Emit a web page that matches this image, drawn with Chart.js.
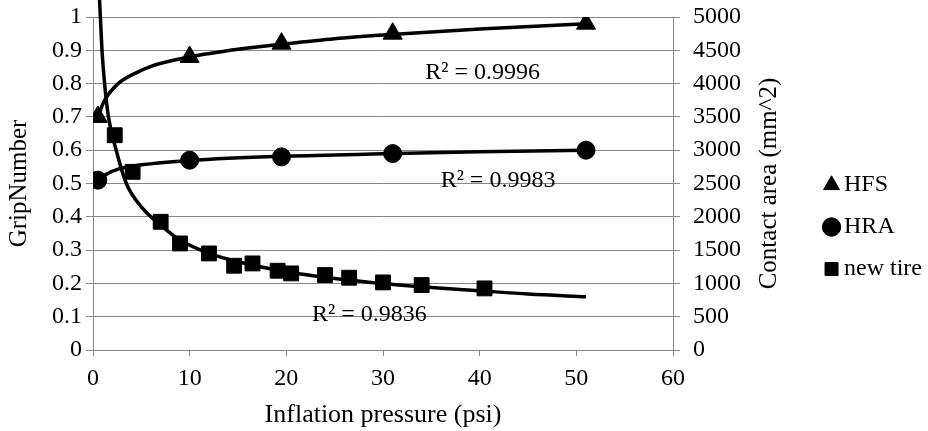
<!DOCTYPE html>
<html>
<head>
<meta charset="utf-8">
<script src="https://cdn.jsdelivr.net/npm/chart.js@4.4.1/dist/chart.umd.min.js"></script>
<style>
  html, body { margin: 0; padding: 0; background: #fff; }
  #wrap { width: 928px; height: 431px; }
</style>
</head>
<body>
<div id="wrap"><canvas id="grip"></canvas></div>
<script>
const pressureHFS = [0.5, 10, 19.5, 31, 51];
const gripHFS = [0.70, 0.88, 0.92, 0.95, 0.98];
const pressureHRA = [0.5, 10, 19.5, 31, 51];
const gripHRA = [0.51, 0.57, 0.58, 0.59, 0.60];
const pressureTire = [2.25, 4.1, 7.0, 9.0, 12.0, 14.6, 16.5, 19.1, 20.5, 24.0, 26.5, 30.0, 34.0, 40.5];
const areaTire = [3225, 2675, 1925, 1600, 1450, 1265, 1300, 1190, 1150, 1125, 1085, 1015, 975, 925];

// trend lines
const fitHFSx = [0.5, 1.2, 2.6, 4.3, 6, 10, 15, 20, 25, 30, 40, 51];
const fitHFSy = [0.70, 0.75, 0.80, 0.83, 0.852, 0.88, 0.903, 0.92, 0.935, 0.946, 0.964, 0.98];
const fitHRAx = [0.5, 1.2, 2.6, 5, 10, 20, 30, 40, 51];
const fitHRAy = [0.508, 0.525, 0.543, 0.556, 0.569, 0.582, 0.589, 0.595, 0.60];
const fitTireX = [0.62, 0.68, 0.93, 1.2, 1.6, 2.4, 3.45, 5, 7, 9, 12, 15, 20, 25, 30, 35, 40, 45, 51];
const fitTireY = [5500, 5250, 4500, 4000, 3500, 3000, 2500, 2150, 1875, 1650, 1450, 1325, 1175, 1075, 1000, 940, 890, 840, 800];

const r2Values = ["0.9996", "0.9983", "0.9836"];

const serif = "'Liberation Serif', 'Times New Roman', serif";
const gray = "#878787";
const padR = -4, padB = -6;
Chart.defaults.font.family = serif;
Chart.defaults.font.size = 24;
Chart.defaults.color = "#000";

function pts(xs, ys) {
  return xs.map((x, i) => ({ x: x, y: ys[i] }));
}

// R² labels + right axis title (Excel writes it bottom-to-top)
const extras = {
  id: "extras",
  afterDraw(chart) {
    const ctx = chart.ctx;
    const a = chart.chartArea;
    const xs = chart.scales.x, ys = chart.scales.y;
    ctx.save();
    ctx.font = "24px " + serif;
    ctx.fillStyle = "#000";
    ctx.textAlign = "center";
    ctx.textBaseline = "middle";
    const spots = [[40.3, 0.834], [41.9, 0.507], [28.6, 0.105]];
    r2Values.forEach((v, i) => {
      ctx.fillText("R² = " + v, xs.getPixelForValue(spots[i][0]), ys.getPixelForValue(spots[i][1]));
    });
    ctx.font = "25px " + serif;
    ctx.translate(769, (a.top + a.bottom) / 2);
    ctx.rotate(-Math.PI / 2);
    ctx.fillText("Contact area (mm^2)", 0, 0);
    ctx.restore();
  }
};

const markerStyle = {
  showLine: false,
  backgroundColor: "#000",
  borderColor: "#000",
  pointBackgroundColor: "#000",
  pointBorderColor: "#000",
  pointBorderWidth: 1
};
const fitStyle = {
  showLine: true,
  pointRadius: 0,
  borderColor: "#000",
  borderWidth: 3.5,
  fill: false,
  cubicInterpolationMode: "monotone"
};

function noPad(s) {
  s.paddingTop = 0;
  s.paddingBottom = 0;
}

new Chart(document.getElementById("grip"), {
  type: "scatter",
  data: {
    datasets: [
      Object.assign({ label: "HFS", data: pts(pressureHFS, gripHFS), yAxisID: "y", pointStyle: "triangle", pointRadius: 11 }, markerStyle),
      Object.assign({ label: "HRA", data: pts(pressureHRA, gripHRA), yAxisID: "y", pointStyle: "circle", pointRadius: 9 }, markerStyle),
      Object.assign({ label: "new tire", data: pts(pressureTire, areaTire), yAxisID: "y2", pointStyle: "rect", pointRadius: 10.5 }, markerStyle),
      Object.assign({ label: "fit HFS", data: pts(fitHFSx, fitHFSy), yAxisID: "y" }, fitStyle),
      Object.assign({ label: "fit HRA", data: pts(fitHRAx, fitHRAy), yAxisID: "y" }, fitStyle),
      Object.assign({ label: "fit tire", data: pts(fitTireX, fitTireY), yAxisID: "y2", clip: false }, fitStyle)
    ]
  },
  options: {
    responsive: true,
    maintainAspectRatio: false,
    animation: false,
    events: [],
    layout: { padding: { top: 17, left: 0, right: padR, bottom: padB } },
    plugins: {
      tooltip: { enabled: false },
      legend: {
        position: "right",
        labels: {
          usePointStyle: true,
          boxWidth: 1,
          boxHeight: 13,
          padding: 18,
          color: "#000",
          font: { family: serif, size: 24 },
          filter: item => item.datasetIndex < 3
        }
      }
    },
    scales: {
      x: {
        type: "linear",
        min: 0,
        max: 60,
        ticks: { stepSize: 10, padding: 8, color: "#000", font: { size: 24 } },
        grid: { drawOnChartArea: false, drawTicks: true, tickLength: 6, color: gray, lineWidth: 1 },
        border: { display: true, color: gray, width: 1 },
        title: { display: true, text: "Inflation pressure (psi)", color: "#000", font: { size: 26 }, padding: { top: 0, bottom: 6 } },
        afterFit: s => { s.height = 81 - padB; }
      },
      y: {
        position: "left",
        min: 0,
        max: 1,
        ticks: { stepSize: 0.1, padding: 4, color: "#000", font: { size: 24 }, callback: v => String(Math.round(v * 10) / 10) },
        grid: { color: gray, lineWidth: 1, tickLength: 7 },
        border: { display: true, color: gray, width: 1 },
        title: { display: true, text: "GripNumber", color: "#000", font: { size: 25 }, padding: { top: 4, bottom: 0 } },
        afterFit: s => { s.width = 93; noPad(s); }
      },
      y2: {
        position: "right",
        min: 0,
        max: 5000,
        ticks: { stepSize: 500, padding: 13, color: "#000", font: { size: 24 }, callback: v => String(v) },
        grid: { drawOnChartArea: false, color: gray, lineWidth: 1, tickLength: 7 },
        border: { display: true, color: gray, width: 1 },
        afterFit: s => {
          const lw = s.chart.legend ? s.chart.legend.width : 110;
          s.width = s.chart.width - padR - 673 - lw;
          noPad(s);
        }
      }
    }
  },
  plugins: [extras]
});
</script>
</body>
</html>
